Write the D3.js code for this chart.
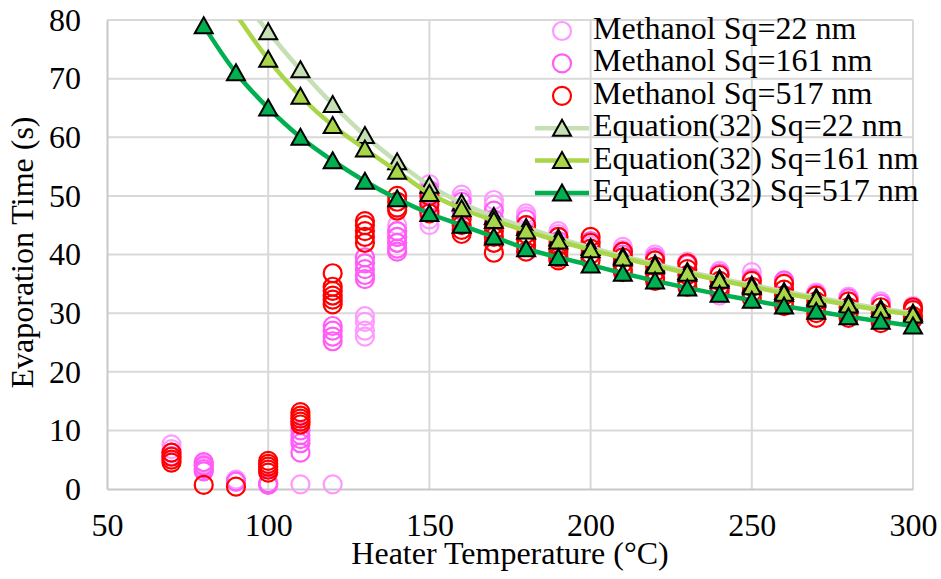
<!DOCTYPE html>
<html>
<head>
<meta charset="utf-8">
<script src="https://cdn.jsdelivr.net/npm/d3@7"></script>
<style>
  html, body { margin: 0; padding: 0; background: #fff; }
  svg { display: block; }
  svg text { font-family: "Liberation Serif", "Times New Roman", Times, "DejaVu Serif", serif !important; fill: #000; }
</style>
</head>
<body>
<svg id="chart" width="941" height="579"></svg>
<script>
// ---------------- DATA ----------------
const xTicks = [50, 100, 150, 200, 250, 300];
const yTicks = [0, 10, 20, 30, 40, 50, 60, 70, 80];

// Measured evaporation times (replicates per temperature)
const methanolSq22 = [
  [70, [7.6, 6.8]], [80, [4.3, 3.8]], [90, [1.6, 1.2]], [100, [1.0, 0.8]],
  [110, [0.8]], [120, [0.8]], [130, [29.5, 28.5, 27, 26]], [140, [45, 44, 43, 42]],
  [150, [52, 50.5, 46, 45]], [160, [50.2, 49.5]], [170, [49.3, 48.5]], [180, [47, 46.5]],
  [190, [44, 43.5]], [200, [41.5]], [210, [41.3, 40.8]], [220, [40, 39.5]],
  [230, [38.8]], [240, [37.2, 33]], [250, [37, 36]], [260, [35.3]],
  [270, [33.5]], [280, [32.8]], [290, [32]], [300, [31.2]]
];
const methanolSq161 = [
  [70, [6.2, 5.6]], [80, [4.6, 4.0, 3.4, 3.0]], [90, [1.3]], [100, [1.0, 0.7]],
  [110, [10, 9.2, 8.5, 7.8, 6.2]], [120, [27.8, 27, 26, 25.2]],
  [130, [39.5, 38.5, 37.5, 36.5, 35.8]], [140, [44, 43, 42, 41, 40.5]],
  [150, [51, 49, 47.5]], [160, [49, 47.5]], [170, [47.5, 46]], [180, [46, 45]],
  [190, [43, 42.3]], [200, [42.3]], [210, [40.5, 40]], [220, [39.5, 39]],
  [230, [38.3]], [240, [36.8, 33.5]], [250, [35.8]], [260, [35.6]],
  [270, [33.2]], [280, [32.5]], [290, [31.6]], [300, [30.8]]
];
const methanolSq517 = [
  [70, [6.2, 5.5, 5.0, 4.5]], [80, [0.7]], [90, [0.4]], [100, [4.8, 4.3, 3.8, 3.3, 2.8]],
  [110, [13.1, 12.5, 12.0, 11.5, 11.0]], [120, [36.8, 34.5, 33.8, 33, 32.3, 31.5]],
  [130, [45.7, 45, 44, 43, 42]], [140, [50, 49, 48, 47.5]], [150, [50, 48.5, 47]],
  [160, [46, 45, 44.2, 43.5]], [170, [45, 44, 43, 42, 40.3]], [180, [45, 43.5, 42.5, 41.5, 40.5]],
  [190, [43, 41.5, 40.5, 39.5, 39]], [200, [43, 42, 41, 40, 39]], [210, [40.5, 39.5, 38.5, 37.5, 37]],
  [220, [39, 38, 37, 36, 35.5]], [230, [38.5, 37.5, 36.5, 35.5, 34.5]], [240, [36.5, 35.5, 34.5, 33.8]],
  [250, [35.5, 34.5, 33.5, 32.5]], [260, [35, 34, 33, 32, 31.2]], [270, [33, 32, 31, 30, 29.2]],
  [280, [32, 31, 30, 29.2]], [290, [31, 30, 29, 28.3]], [300, [31, 30.5, 29.5, 29]]
];

// Equation (32) predictions
const eqTemps = [90, 100, 110, 120, 130, 140, 150, 160, 170, 180, 190, 200, 210, 220, 230, 240, 250, 260, 270, 280, 290, 300];
const eqSq22  = [85, 78, 71.5, 65.6, 60.3, 55.8, 51.8, 48.8, 46.5, 44.6, 42.8, 41.2, 39.7, 38.4, 37.1, 35.9, 34.8, 33.7, 32.7, 31.7, 30.8, 30.0];
const eqSq161 = [81, 73.3, 67, 62, 58, 54.2, 50.4, 47.8, 45.8, 44.0, 42.3, 40.8, 39.4, 38.1, 36.8, 35.6, 34.5, 33.4, 32.4, 31.4, 30.5, 29.7];
const eqSq517Temps = [80, 90, 100, 110, 120, 130, 140, 150, 160, 170, 180, 190, 200, 210, 220, 230, 240, 250, 260, 270, 280, 290, 300];
const eqSq517 = [79, 71, 65, 60, 56, 52.5, 49.5, 47, 45, 43, 41, 39.5, 38.2, 36.8, 35.5, 34.3, 33.2, 32.2, 31.2, 30.3, 29.4, 28.6, 27.8];

const legendLabels = [
  "Methanol Sq=22 nm", "Methanol Sq=161 nm", "Methanol Sq=517 nm",
  "Equation(32) Sq=22 nm", "Equation(32) Sq=161 nm", "Equation(32) Sq=517 nm"
];

// ---------------- STYLE ----------------
const FONT = '"Liberation Serif", "Times New Roman", Times, "DejaVu Serif", serif';
const circleColors = ["#ff99ff", "#ff5cf8", "#ff0000"];
const eqColors = ["#c5e0b4", "#a8d648", "#00b050"];

// ---------------- LAYOUT ----------------
const svg = d3.select("#chart");
svg.append("rect").attr("width", 941).attr("height", 579).attr("fill", "#fff");

const plot = { left: 107, right: 913, top: 20, bottom: 489 };
const x = d3.scaleLinear().domain([50, 300]).range([plot.left, plot.right]);
const y = d3.scaleLinear().domain([0, 80]).range([plot.bottom, plot.top]);

// gridlines
const grid = svg.append("g");
grid.selectAll("line.h").data(yTicks.filter(d => d > 0)).join("line")
  .attr("x1", plot.left).attr("x2", plot.right)
  .attr("y1", d => y(d)).attr("y2", d => y(d))
  .attr("stroke", "#d9d9d9").attr("stroke-width", 2);
grid.selectAll("line.v").data(xTicks.filter(d => d > 50)).join("line")
  .attr("x1", d => x(d)).attr("x2", d => x(d))
  .attr("y1", plot.top).attr("y2", plot.bottom)
  .attr("stroke", "#d9d9d9").attr("stroke-width", 2);

// axes
const xAxis = svg.append("g").attr("transform", `translate(0,${plot.bottom})`)
  .call(d3.axisBottom(x).tickValues(xTicks).tickSize(0).tickPadding(24).tickFormat(d3.format("d")));
const yAxis = svg.append("g").attr("transform", `translate(${plot.left},0)`)
  .call(d3.axisLeft(y).tickValues(yTicks).tickSize(0).tickPadding(26).tickFormat(d3.format("d")));
[xAxis, yAxis].forEach(a => {
  a.attr("font-family", FONT).attr("font-size", 32);
  a.select(".domain").attr("stroke", "#c8c8c8").attr("stroke-width", 2);
  a.selectAll("text").attr("fill", "#000");
});

// axis titles
svg.append("text").attr("x", (plot.left + plot.right) / 2).attr("y", 564)
  .attr("text-anchor", "middle").attr("font-family", FONT).attr("font-size", 32)
  .text("Heater Temperature (°C)");
svg.append("text").attr("transform", `translate(33,${(plot.top + plot.bottom) / 2 - 2}) rotate(-90)`)
  .attr("text-anchor", "middle").attr("font-family", FONT).attr("font-size", 32)
  .text("Evaporation Time (s)");

// scatter series
function flatten(series) {
  const out = [];
  series.forEach(([t, vals]) => vals.forEach(v => out.push([t, v])));
  return out;
}
[methanolSq22, methanolSq161, methanolSq517].forEach((s, i) => {
  svg.append("g").selectAll("circle").data(flatten(s)).join("circle")
    .attr("cx", d => x(d[0])).attr("cy", d => y(d[1])).attr("r", 9)
    .attr("fill", "none").attr("stroke", circleColors[i]).attr("stroke-width", 2.2);
});

// clip for lines
svg.append("clipPath").attr("id", "plotClip").append("rect")
  .attr("x", plot.left).attr("y", plot.top)
  .attr("width", plot.right - plot.left).attr("height", plot.bottom - plot.top);

const tri = "M0,-8.5L9,7.5L-9,7.5Z";
const lineGen = d3.line().x(d => x(d[0])).y(d => y(d[1])).curve(d3.curveCatmullRom.alpha(0.5));

const eqSeries = [
  d3.zip(eqTemps, eqSq22),
  d3.zip(eqTemps, eqSq161),
  d3.zip(eqSq517Temps, eqSq517)
];
eqSeries.forEach((pts, i) => {
  const g = svg.append("g");
  g.append("path").attr("d", lineGen(pts)).attr("clip-path", "url(#plotClip)")
    .attr("fill", "none").attr("stroke", eqColors[i]).attr("stroke-width", 4.5);
  g.selectAll("path.m").data(pts.filter(d => d[1] <= 80)).join("path")
    .attr("class", "m")
    .attr("transform", d => `translate(${x(d[0])},${y(d[1])})`)
    .attr("d", tri).attr("fill", eqColors[i]).attr("stroke", "#000").attr("stroke-width", 2);
});

// legend
const legend = svg.append("g").attr("font-family", FONT).attr("font-size", 32);
legendLabels.forEach((lab, i) => {
  const base = 39 + i * 32.4;
  const my = base - 8;
  if (i < 3) {
    legend.append("circle").attr("cx", 562).attr("cy", my).attr("r", 9)
      .attr("fill", "none").attr("stroke", circleColors[i]).attr("stroke-width", 2.2);
  } else {
    legend.append("line").attr("x1", 535).attr("x2", 589).attr("y1", my).attr("y2", my)
      .attr("stroke", eqColors[i - 3]).attr("stroke-width", 4.5);
    legend.append("path").attr("transform", `translate(562,${my})`).attr("d", tri)
      .attr("fill", eqColors[i - 3]).attr("stroke", "#000").attr("stroke-width", 2);
  }
  legend.append("text").attr("x", 593).attr("y", base).text(lab);
});
</script>
</body>
</html>
